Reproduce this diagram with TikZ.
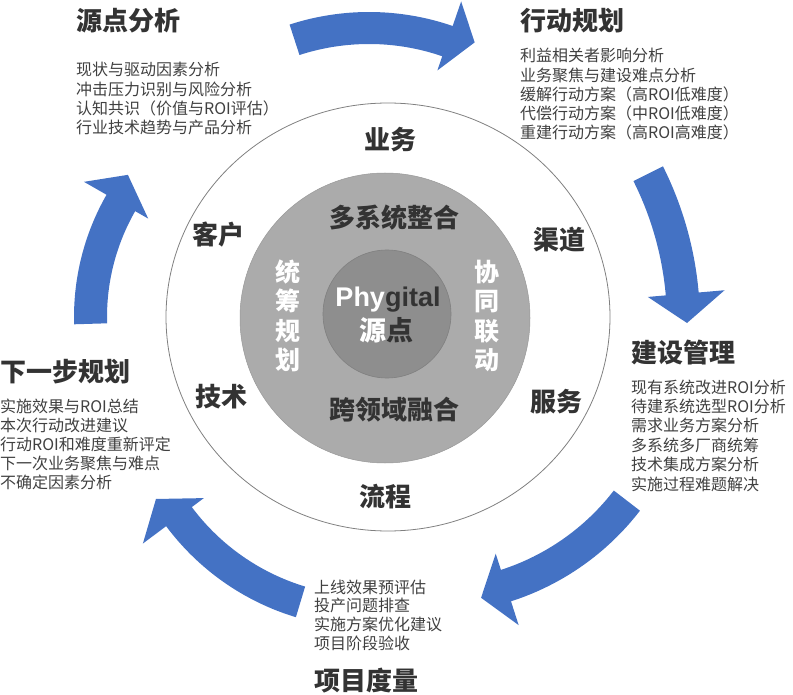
\documentclass[tikz,border=0pt]{standalone}
\usepackage{fontspec}
\setmainfont{Noto Sans CJK SC}
\newfontfamily\latinb{Liberation Sans}
\usetikzlibrary{calc}
\definecolor{arrowblue}{HTML}{4472C4}
\definecolor{headc}{HTML}{333333}
\definecolor{bodyc}{HTML}{404040}
\definecolor{midgray}{HTML}{ABABAB}
\definecolor{innergray}{HTML}{8E8E8E}
\definecolor{linegray}{HTML}{808080}
\begin{document}
\begin{tikzpicture}[x=1pt,y=1pt,
  head/.style={anchor=base west, inner sep=0, font=\fontsize{26}{30}\selectfont\bfseries, text=headc},
  body/.style={anchor=base west, inner sep=0, font=\fontsize{16}{19}\selectfont, text=bodyc},
  ring/.style={inner sep=0, font=\fontsize{26}{30}\selectfont\bfseries, text=headc},
  vert/.style={inner sep=0, align=center, font=\fontsize{25}{29.5}\selectfont\bfseries, text=white},
  cyc/.style={fill=arrowblue, draw=none}]
\path[use as bounding box] (0,0) rectangle (793,-695);

% circles
\draw[linegray, line width=0.8, fill=white] (388,-317) ellipse[x radius=222, y radius=214];
\filldraw[fill=midgray, draw=linegray!80, line width=0.5] (385,-318) circle[radius=145];
\filldraw[fill=innergray, draw=linegray, line width=0.6] (387,-314) circle[radius=64];

% cycle arrows
\begin{scope}[shift={(369,-269)}]
\fill[cyc] (108:257) arc[start angle=108,end angle=71,radius=257] -- (71:283) -- (65:250) -- (71:210) -- (71:225) arc[start angle=71,end angle=108,radius=225] -- cycle;
\end{scope}
\begin{scope}[shift={(350,-323)}]
\fill[cyc] (26.6:350) arc[start angle=26.6,end angle=5,radius=350] -- (5:376) -- (0:337) -- (5:299) -- (5:317) arc[start angle=5,end angle=26.6,radius=317] -- cycle;
\end{scope}
\begin{scope}[shift={(430,-349)}]
\fill[cyc] (-37.6:265) arc[start angle=-37.6,end angle=-72.2,radius=265] -- (-72.2:290) -- (-78.4:254) -- (-72.2:215) -- (-72.2:232) arc[start angle=-72.2,end angle=-37.6,radius=232] -- cycle;
\end{scope}
\begin{scope}[shift={(369,-375)}]
\fill[cyc] (-106.8:253) arc[start angle=-106.8,end angle=-143.3,radius=253] -- (-143.3:282) -- (-149.8:246.5) -- (-143.3:206) -- (-143.3:221) arc[start angle=-143.3,end angle=-106.8,radius=221] -- cycle;
\end{scope}
\begin{scope}[shift={(320,-317)}]
\fill[cyc] (181.7:246) arc[start angle=181.7,end angle=150.2,radius=246] -- (150.2:272) -- (143.5:239) -- (150.2:198) -- (150.2:213) arc[start angle=150.2,end angle=181.7,radius=213] -- cycle;
\end{scope}

% ring labels
\node[ring] (yw) at (390,-140) {业务};
\node[ring] (kh) at (218,-235) {客户};
\node[ring] (qd) at (559,-240) {渠道};
\node[ring] (fw) at (556,-402) {服务};
\node[ring] (js) at (221,-397) {技术};
\node[ring] (lc) at (385,-497) {流程};
\node[ring] (dxt) at (394,-218) {多系统整合};
\node[ring] (kly) at (394,-410) {跨领域融合};
\node[vert] (tcgh) at (288,-316) {统\\筹\\规\\划};
\node[vert] (xtld) at (487,-316) {协\\同\\联\\动};
\node[anchor=base, inner sep=0, font=\latinb\fontsize{27}{30}\selectfont\bfseries] (phy) at (388,-307) {\textcolor{white}{Phy}\textcolor{headc}{gital}};
\node[inner sep=0, font=\fontsize{27}{30}\selectfont\bfseries] (yd) at (386,-330) {\textcolor{white}{源}\textcolor{headc}{点}};

% headings
\node[head] (h1) at (76,-31) {源点分析};
\node[head] (h2) at (520,-31) {行动规划};
\node[head] (h3) at (631,-362) {建设管理};
\node[head] (h4) at (314,-690) {项目度量};
\node[head] (h5) at (0,-381) {下一步规划};

% lists
\foreach \t [count=\i] in {现状与驱动因素分析,冲击压力识别与风险分析,认知共识（价值与ROI评估）,行业技术趋势与产品分析}
  \node[body] (a\i) at (76,{-76-(\i-1)*19.2}) {\t};
\foreach \t [count=\i] in {利益相关者影响分析,业务聚焦与建设难点分析,缓解行动方案（高ROI低难度）,代偿行动方案（中ROI低难度）,重建行动方案（高ROI高难度）}
  \node[body] (b\i) at (520,{-62-(\i-1)*19.25}) {\t};
\foreach \t [count=\i] in {现有系统改进ROI分析,待建系统选型ROI分析,需求业务方案分析,多系统多厂商统筹,技术集成方案分析,实施过程难题解决}
  \node[body] (c\i) at (631,{-393-(\i-1)*19.4}) {\t};
\foreach \t [count=\i] in {上线效果预评估,投产问题排查,实施方案优化建议,项目阶段验收}
  \node[body] (d\i) at (314,{-593-(\i-1)*18.7}) {\t};
\foreach \t [count=\i] in {实施效果与ROI总结,本次行动改进建议,行动ROI和难度重新评定,下一次业务聚焦与难点,不确定因素分析}
  \node[body] (e\i) at (0,{-412-(\i-1)*19.2}) {\t};
\end{tikzpicture}
\end{document}
